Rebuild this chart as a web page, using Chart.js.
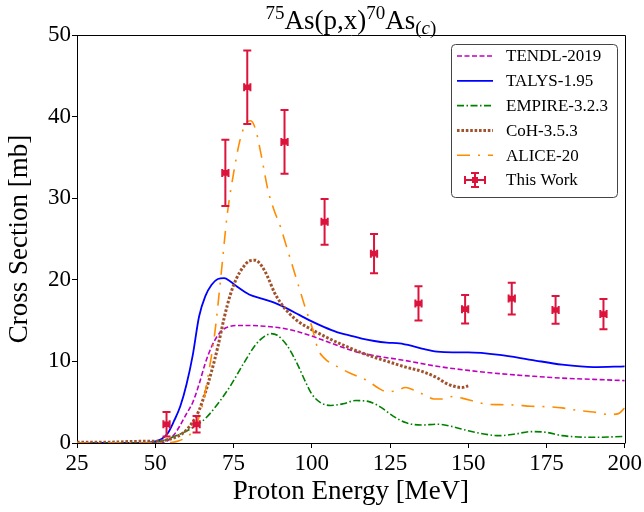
<!DOCTYPE html>
<html>
<head>
<meta charset="utf-8">
<script src="https://cdn.jsdelivr.net/npm/chart.js@4/dist/chart.umd.min.js"></script>
<style>
  html, body { margin: 0; padding: 0; background: #fff; }
  #wrap { width: 644px; height: 512px; position: relative; }
</style>
</head>
<body>
<div id="wrap"><canvas id="c" width="644" height="512"></canvas></div>
<script>
// ---------- DATA ----------
const tendlE = [25, 45, 52, 54, 56, 58, 60, 62, 64, 66, 68, 70, 72, 74, 76, 80, 85, 90, 95, 100, 105, 110, 115, 120, 130, 140, 150, 160, 170, 180, 190, 200];
const tendlXS = [0, 0, 0.05, 0.3, 1.0, 2.2, 3.6, 5.0, 7.2, 9.8, 11.8, 13.2, 14.0, 14.3, 14.4, 14.4, 14.3, 14.1, 13.7, 13.1, 12.4, 11.7, 11.1, 10.7, 10.1, 9.4, 8.9, 8.5, 8.2, 7.95, 7.8, 7.65];

const talysE = [25, 40, 48, 50, 52, 54, 56, 58, 60, 62, 64, 66, 68, 70, 72, 74, 76, 80, 84, 88, 92, 96, 100, 104, 108, 112, 116, 120, 124, 128, 132, 136, 140, 145, 150, 160, 170, 180, 190, 200];
const talysXS = [0, 0, 0.05, 0.2, 0.5, 1.2, 2.7, 4.5, 7.2, 10.8, 15.5, 18.0, 19.4, 20.1, 20.2, 19.8, 19.2, 18.2, 17.7, 17.2, 16.5, 15.7, 14.9, 14.2, 13.6, 13.2, 12.8, 12.5, 12.3, 12.2, 11.9, 11.5, 11.2, 11.1, 11.1, 10.8, 10.2, 9.6, 9.3, 9.4];

const empireE = [25, 45, 50, 54, 58, 62, 66, 70, 74, 78, 82, 85, 87, 89, 92, 95, 98, 100, 103, 106, 110, 114, 118, 122, 126, 130, 135, 140, 145, 150, 155, 160, 165, 170, 175, 180, 190, 200];
const empireXS = [0, 0, 0.1, 0.5, 1.1, 1.9, 3.0, 4.8, 7.0, 9.6, 12.0, 13.1, 13.4, 13.2, 12.0, 10.0, 7.5, 6.0, 4.9, 4.6, 4.8, 5.2, 5.1, 4.4, 3.3, 2.5, 2.2, 2.3, 2.0, 1.5, 1.1, 0.9, 1.1, 1.4, 1.3, 0.9, 0.7, 0.8];

const cohE = [25, 35, 45, 50, 54, 58, 60, 62, 64, 66, 68, 70, 72, 74, 76, 78, 80, 82, 84, 86, 88, 90, 93, 96, 100, 105, 110, 115, 120, 125, 130, 135, 140, 143, 146, 148, 150];
const cohXS = [0.1, 0.1, 0.2, 0.2, 0.4, 1.0, 1.6, 2.6, 4.0, 6.2, 8.8, 11.8, 15.3, 18.2, 20.2, 21.5, 22.3, 22.4, 21.7, 20.3, 18.5, 17.2, 15.8, 14.8, 13.9, 12.9, 12.0, 11.2, 10.5, 9.9, 9.3, 8.8, 8.0, 7.3, 6.9, 6.8, 7.0];

const aliceE = [25, 50, 55, 57, 59, 61, 63, 65, 67, 69, 71, 73, 75, 77, 79, 80.5, 82, 84, 86, 88, 90, 92, 94, 96, 98, 100, 102, 104, 106, 109, 112, 115, 118, 121, 124, 127, 130, 133, 136, 139, 142, 145, 148, 152, 156, 160, 165, 170, 175, 180, 185, 190, 195, 198, 200];
const aliceXS = [0, 0, 0.05, 0.2, 0.5, 1.0, 2.2, 4.5, 8.5, 13.4, 20.5, 28.0, 33.0, 37.0, 39.2, 39.5, 38.5, 35.0, 31.0, 28.5, 26.5, 24.0, 21.5, 19.0, 16.5, 14.3, 11.5, 10.4, 9.8, 9.2, 8.6, 8.1, 7.6, 6.8, 6.3, 6.4, 6.8, 6.4, 5.9, 5.4, 5.4, 5.7, 5.5, 5.1, 4.75, 4.7, 4.65, 4.5, 4.45, 4.3, 4.0, 3.8, 3.5, 3.6, 4.3];

const expE    = [53.6, 63.2, 72.4, 79.4, 91.3, 104.1, 119.9, 134.1, 149.0, 163.9, 177.9, 193.2];
const expXS   = [2.3, 2.3, 33.1, 43.6, 36.9, 27.1, 23.2, 17.1, 16.4, 17.7, 16.3, 15.8];
const expErr  = [1.5, 1.0, 4.05, 4.5, 3.9, 2.8, 2.4, 2.1, 1.75, 1.95, 1.7, 1.85];
const expEErr = [1.0, 1.0, 1.0, 1.0, 1.0, 1.0, 1.0, 1.0, 1.0, 1.0, 1.0, 1.0];

const xTicks = [25, 50, 75, 100, 125, 150, 175, 200];
const yTicks = [0, 10, 20, 30, 40, 50];
const seriesLabels = ['TENDL-2019', 'TALYS-1.95', 'EMPIRE-3.2.3', 'CoH-3.5.3', 'ALICE-20', 'This Work'];

// ---------- HELPERS ----------
const FONT = "'Liberation Serif', 'Times New Roman', serif";
const pts = (xs, ys) => xs.map((x, i) => ({ x: x, y: ys[i] }));

function lineDs(label, xs, ys, color, width, dash, order) {
  return {
    type: 'line', label: label, data: pts(xs, ys),
    borderColor: color, backgroundColor: color, borderWidth: width,
    borderDash: dash, pointRadius: 0, pointHoverRadius: 0,
    showLine: true, fill: false, cubicInterpolationMode: 'monotone', order: order
  };
}

const datasets = [
  lineDs(seriesLabels[0], tendlE, tendlXS, '#bf00bf', 1.6, [5, 2.5], 5),
  lineDs(seriesLabels[1], talysE, talysXS, '#0000ff', 1.8, [], 4),
  lineDs(seriesLabels[2], empireE, empireXS, '#008000', 1.6, [7, 2.5, 1.5, 2.5], 3),
  lineDs(seriesLabels[3], cohE, cohXS, '#a0522d', 3, [2.6, 1.8], 2),
  lineDs(seriesLabels[4], aliceE, aliceXS, '#ff8c00', 1.6, [13, 8, 2, 8], 1),
  {
    type: 'scatter', label: seriesLabels[5], data: pts(expE, expXS),
    errY: expErr, errX: expEErr,
    backgroundColor: '#dc143c', borderColor: '#dc143c', borderWidth: 0,
    pointStyle: 'rect', pointRadius: 4, pointHoverRadius: 4, order: 0, isErr: true
  }
];

// ---------- PLUGINS ----------
const errorBars = {
  id: 'errorBars',
  afterDatasetsDraw(chart) {
    const ctx = chart.ctx, xs = chart.scales.x, ys = chart.scales.y;
    chart.data.datasets.forEach((ds) => {
      if (!ds.isErr) return;
      ctx.save();
      ctx.strokeStyle = ds.borderColor;
      ctx.lineWidth = 2;
      const cap = 4;
      ds.data.forEach((p, i) => {
        const px = xs.getPixelForValue(p.x), py = ys.getPixelForValue(p.y);
        const yt = ys.getPixelForValue(p.y + ds.errY[i]);
        const yb = ys.getPixelForValue(p.y - ds.errY[i]);
        const xl = xs.getPixelForValue(p.x - ds.errX[i]);
        const xr = xs.getPixelForValue(p.x + ds.errX[i]);
        ctx.beginPath();
        ctx.moveTo(px, yt); ctx.lineTo(px, yb);
        ctx.moveTo(px - cap, yt); ctx.lineTo(px + cap, yt);
        ctx.moveTo(px - cap, yb); ctx.lineTo(px + cap, yb);
        ctx.moveTo(xl, py); ctx.lineTo(xr, py);
        ctx.moveTo(xl, py - cap); ctx.lineTo(xl, py + cap);
        ctx.moveTo(xr, py - cap); ctx.lineTo(xr, py + cap);
        ctx.stroke();
      });
      ctx.restore();
    });
  }
};

const frameTitleLegend = {
  id: 'frameTitleLegend',
  afterDraw(chart) {
    const ctx = chart.ctx, a = chart.chartArea;
    // frame (top & right spines)
    ctx.save();
    ctx.strokeStyle = '#000'; ctx.lineWidth = 1;
    ctx.beginPath();
    ctx.moveTo(Math.round(a.left) + 0.5, Math.round(a.top) + 0.5);
    ctx.lineTo(Math.round(a.right) + 0.5, Math.round(a.top) + 0.5);
    ctx.lineTo(Math.round(a.right) + 0.5, Math.round(a.bottom) + 0.5);
    ctx.stroke();
    ctx.restore();

    // title with super/subscripts
    const big = 27, small = 19;
    const parts = [
      { t: '75', size: small, dy: -10, italic: false },
      { t: 'As(p,x)', size: big, dy: 0, italic: false },
      { t: '70', size: small, dy: -10, italic: false },
      { t: 'As', size: big, dy: 0, italic: false },
      { t: '(', size: small, dy: 5, italic: false },
      { t: 'c', size: small, dy: 5, italic: true },
      { t: ')', size: small, dy: 5, italic: false }
    ];
    ctx.save();
    ctx.fillStyle = '#000';
    ctx.textBaseline = 'alphabetic';
    ctx.textAlign = 'left';
    let total = 0;
    parts.forEach(p => {
      ctx.font = (p.italic ? 'italic ' : '') + p.size + 'px ' + FONT;
      p.w = ctx.measureText(p.t).width;
      total += p.w;
    });
    let x = (a.left + a.right) / 2 - total / 2;
    const base = 29;
    parts.forEach(p => {
      ctx.font = (p.italic ? 'italic ' : '') + p.size + 'px ' + FONT;
      ctx.fillText(p.t, x, base + p.dy);
      x += p.w;
    });
    ctx.restore();

    // legend
    const lx = 451, ly = 44, lw = 166, lh = 153, r = 4;
    ctx.save();
    ctx.fillStyle = 'rgba(255,255,255,0.85)';
    ctx.strokeStyle = '#444';
    ctx.lineWidth = 1;
    ctx.beginPath();
    ctx.roundRect(lx + 0.5, ly + 0.5, lw, lh, r);
    ctx.fill();
    ctx.stroke();
    const rowY0 = 56, rowH = 24.8;
    const sx0 = 457, sx1 = 493, tx = 506;
    chart.data.datasets.forEach((ds, i) => {
      const y = rowY0 + i * rowH;
      if (ds.isErr) {
        const cx = (sx0 + sx1) / 2;
        ctx.strokeStyle = ds.borderColor; ctx.lineWidth = 2; ctx.setLineDash([]);
        ctx.beginPath();
        ctx.moveTo(cx, y - 7); ctx.lineTo(cx, y + 7);
        ctx.moveTo(cx - 4, y - 7); ctx.lineTo(cx + 4, y - 7);
        ctx.moveTo(cx - 4, y + 7); ctx.lineTo(cx + 4, y + 7);
        ctx.moveTo(cx - 10, y); ctx.lineTo(cx + 10, y);
        ctx.moveTo(cx - 10, y - 4); ctx.lineTo(cx - 10, y + 4);
        ctx.moveTo(cx + 10, y - 4); ctx.lineTo(cx + 10, y + 4);
        ctx.stroke();
        ctx.fillStyle = ds.backgroundColor;
        ctx.fillRect(cx - 3, y - 3, 6, 6);
      } else {
        ctx.strokeStyle = ds.borderColor; ctx.lineWidth = ds.borderWidth;
        ctx.setLineDash(ds.borderDash || []);
        ctx.beginPath();
        ctx.moveTo(sx0, y); ctx.lineTo(sx1, y);
        ctx.stroke();
        ctx.setLineDash([]);
      }
      ctx.fillStyle = '#000';
      ctx.font = '17px ' + FONT;
      ctx.textBaseline = 'middle';
      ctx.textAlign = 'left';
      ctx.fillText(ds.label, tx, y + 1);
    });
    ctx.restore();
  }
};

// ---------- CHART ----------
new Chart(document.getElementById('c'), {
  type: 'scatter',
  data: { datasets: datasets },
  options: {
    responsive: false,
    animation: false,
    events: [],
    layout: { padding: { top: 35, right: 18, left: 0, bottom: 0 } },
    plugins: { legend: { display: false }, tooltip: { enabled: false }, title: { display: false } },
    scales: {
      x: {
        type: 'linear', min: 25, max: 200,
        afterBuildTicks: (s) => { s.ticks = xTicks.map(v => ({ value: v })); },
        afterFit: (s) => { s.height = 69; },
        ticks: { color: '#000', font: { family: FONT, size: 23 }, padding: 2, maxRotation: 0, autoSkip: false },
        grid: { drawOnChartArea: false, drawTicks: true, tickLength: 5, color: '#000' },
        border: { color: '#000', width: 1 },
        title: { display: true, text: 'Proton Energy [MeV]', color: '#000', font: { family: FONT, size: 27 }, padding: { top: 0, bottom: 4 } }
      },
      y: {
        type: 'linear', min: 0, max: 50,
        afterBuildTicks: (s) => { s.ticks = yTicks.map(v => ({ value: v })); },
        afterFit: (s) => { s.width = 77; },
        ticks: { color: '#000', font: { family: FONT, size: 23 }, padding: 1 },
        grid: { drawOnChartArea: false, drawTicks: true, tickLength: 5, color: '#000' },
        border: { color: '#000', width: 1 },
        title: { display: true, text: 'Cross Section [mb]', color: '#000', font: { family: FONT, size: 27 }, padding: { top: 4, bottom: 0 } }
      }
    }
  },
  plugins: [errorBars, frameTitleLegend]
});
</script>
</body>
</html>
